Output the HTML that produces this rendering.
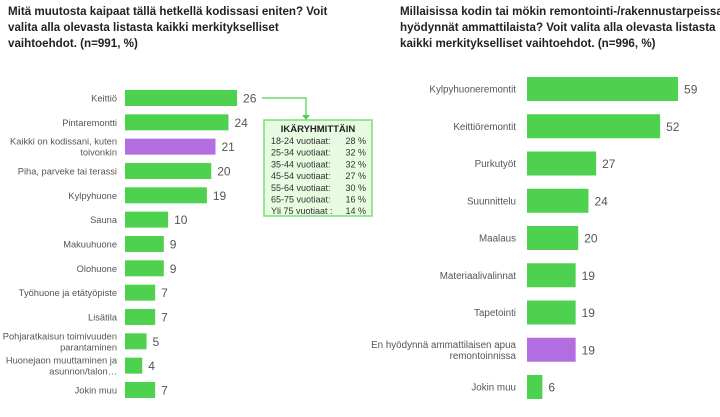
<!DOCTYPE html>
<html><head><meta charset="utf-8"><style>
body{margin:0;width:720px;height:417px;background:#fff;font-family:"Liberation Sans",sans-serif;position:relative;overflow:hidden}
.t{position:absolute;font-weight:bold;font-size:11.6px;line-height:16px;color:#222;white-space:nowrap}
svg{position:absolute;left:0;top:0}
</style></head><body>
<div class="t" style="left:8px;top:4px">Mitä muutosta kaipaat tällä hetkellä kodissasi eniten? Voit<br>valita alla olevasta listasta kaikki merkitykselliset<br>vaihtoehdot. (n=991, %)</div>
<div class="t" style="left:400px;top:4px">Millaisissa kodin tai mökin remontointi-/rakennustarpeissa<br>hyödynnät ammattilaista? Voit valita alla olevasta listasta<br>kaikki merkitykselliset vaihtoehdot. (n=996, %)</div>
<svg id="c" width="720" height="417"></svg>
<script>
const leftCats=["Keittiö","Pintaremontti","Kaikki on kodissani, kuten|toivonkin","Piha, parveke tai terassi","Kylpyhuone","Sauna","Makuuhuone","Olohuone","Työhuone ja etätyöpiste","Lisätila","Pohjaratkaisun toimivuuden|parantaminen","Huonejaon muuttaminen ja|asunnon/talon…","Jokin muu"];
const leftVals=[26,24,21,20,19,10,9,9,7,7,5,4,7];
const leftHighlight=[2];
const rightCats=["Kylpyhuoneremontit","Keittiöremontit","Purkutyöt","Suunnittelu","Maalaus","Materiaalivalinnat","Tapetointi","En hyödynnä ammattilaisen apua|remontoinnissa","Jokin muu"];
const rightVals=[59,52,27,24,20,19,19,19,6];
const rightHighlight=[7];
const ageLabels=["18-24 vuotiaat:","25-34 vuotiaat:","35-44 vuotiaat:","45-54 vuotiaat:","55-64 vuotiaat:","65-75 vuotiaat:","Yli 75 vuotiaat :"];
const ageVals=["28 %","32 %","32 %","27 %","30 %","16 %","14 %"];
const svg=document.getElementById('c');const NS="http://www.w3.org/2000/svg";
function mk(t,a,txt){const e=document.createElementNS(NS,t);for(const k in a)e.setAttribute(k,a[k]);if(txt!=null)e.textContent=txt;svg.appendChild(e);return e;}
function chart(cats,vals,hl,x0,scale,y0,step,bh,lx,fs,key){
  const xs=v=>v*scale, ys=i=>y0+i*step;
  cats.forEach((c,i)=>{
    const y=ys(i);const col=hl.includes(i)?"#b26ee0":"#4ed14e";
    const r=mk('rect',{x:x0,y:y-bh/2,width:xs(vals[i]),height:bh,fill:col});
    
    
    const v=mk('text',{x:x0+xs(vals[i])+6,y:y+4.5,'font-size':12,fill:'#555'},vals[i]);
    
    
    const lines=c.split('|');
    lines.forEach((ln,j)=>{
      const t=mk('text',{x:lx,y:y+3.5+(j-(lines.length-1)/2)*11,'font-size':fs,fill:'#555','text-anchor':'end'},ln);
      
      
    });
  });
}
chart(leftCats,leftVals,leftHighlight,125,4.31,98,24.33,16,117,9.3,'left');
chart(rightCats,rightVals,rightHighlight,527,2.56,89,37.25,24,516,9.8,'right');
const p=mk('polyline',{points:"262,98 306,98 306,116",fill:'none',stroke:'#4ed14e','stroke-width':1.2});

mk('polygon',{points:"302,115 310,115 306,120",fill:'#4ed14e'});
const b=mk('rect',{x:264,y:120,width:108,height:96,fill:'#e6fbe0',stroke:'#7ddc7d','stroke-width':1.5});

mk('text',{x:318,y:132,'font-size':9.5,'font-weight':'bold','text-anchor':'middle',fill:'#222'},'IKÄRYHMITTÄIN');
ageLabels.forEach((l,i)=>{
  const a=mk('text',{x:271,y:144+i*11.7,'font-size':9,fill:'#333'},l);
  
  const v=mk('text',{x:366,y:144+i*11.7,'font-size':9,fill:'#333','text-anchor':'end'},ageVals[i]);
  
});
</script>
</body></html>
